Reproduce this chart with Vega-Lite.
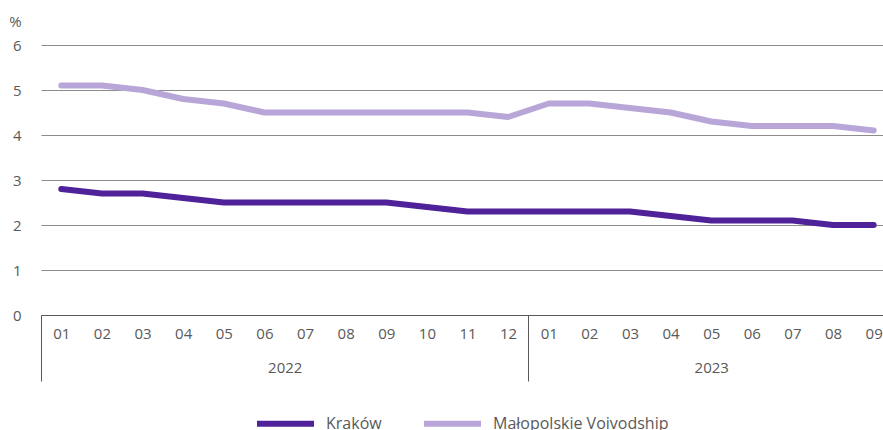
{
  "$schema": "https://vega.github.io/schema/vega-lite/v6.json",
  "width": 853,
  "height": 270,
  "autosize": {"type": "none"},
  "padding": {"left": 41, "top": 45, "right": 0, "bottom": 115},
  "config": {"font": "Open Sans", "view": {"stroke": null}},
  "layer": [
    {
      "data": {
        "values": [
          {"month": "2022-01", "series": "Kraków", "value": 2.8},
          {"month": "2022-02", "series": "Kraków", "value": 2.7},
          {"month": "2022-03", "series": "Kraków", "value": 2.7},
          {"month": "2022-04", "series": "Kraków", "value": 2.6},
          {"month": "2022-05", "series": "Kraków", "value": 2.5},
          {"month": "2022-06", "series": "Kraków", "value": 2.5},
          {"month": "2022-07", "series": "Kraków", "value": 2.5},
          {"month": "2022-08", "series": "Kraków", "value": 2.5},
          {"month": "2022-09", "series": "Kraków", "value": 2.5},
          {"month": "2022-10", "series": "Kraków", "value": 2.4},
          {"month": "2022-11", "series": "Kraków", "value": 2.3},
          {"month": "2022-12", "series": "Kraków", "value": 2.3},
          {"month": "2023-01", "series": "Kraków", "value": 2.3},
          {"month": "2023-02", "series": "Kraków", "value": 2.3},
          {"month": "2023-03", "series": "Kraków", "value": 2.3},
          {"month": "2023-04", "series": "Kraków", "value": 2.2},
          {"month": "2023-05", "series": "Kraków", "value": 2.1},
          {"month": "2023-06", "series": "Kraków", "value": 2.1},
          {"month": "2023-07", "series": "Kraków", "value": 2.1},
          {"month": "2023-08", "series": "Kraków", "value": 2.0},
          {"month": "2023-09", "series": "Kraków", "value": 2.0},
          {"month": "2022-01", "series": "Małopolskie Voivodship", "value": 5.1},
          {"month": "2022-02", "series": "Małopolskie Voivodship", "value": 5.1},
          {"month": "2022-03", "series": "Małopolskie Voivodship", "value": 5.0},
          {"month": "2022-04", "series": "Małopolskie Voivodship", "value": 4.8},
          {"month": "2022-05", "series": "Małopolskie Voivodship", "value": 4.7},
          {"month": "2022-06", "series": "Małopolskie Voivodship", "value": 4.5},
          {"month": "2022-07", "series": "Małopolskie Voivodship", "value": 4.5},
          {"month": "2022-08", "series": "Małopolskie Voivodship", "value": 4.5},
          {"month": "2022-09", "series": "Małopolskie Voivodship", "value": 4.5},
          {"month": "2022-10", "series": "Małopolskie Voivodship", "value": 4.5},
          {"month": "2022-11", "series": "Małopolskie Voivodship", "value": 4.5},
          {"month": "2022-12", "series": "Małopolskie Voivodship", "value": 4.4},
          {"month": "2023-01", "series": "Małopolskie Voivodship", "value": 4.7},
          {"month": "2023-02", "series": "Małopolskie Voivodship", "value": 4.7},
          {"month": "2023-03", "series": "Małopolskie Voivodship", "value": 4.6},
          {"month": "2023-04", "series": "Małopolskie Voivodship", "value": 4.5},
          {"month": "2023-05", "series": "Małopolskie Voivodship", "value": 4.3},
          {"month": "2023-06", "series": "Małopolskie Voivodship", "value": 4.2},
          {"month": "2023-07", "series": "Małopolskie Voivodship", "value": 4.2},
          {"month": "2023-08", "series": "Małopolskie Voivodship", "value": 4.2},
          {"month": "2023-09", "series": "Małopolskie Voivodship", "value": 4.1}
        ]
      },
      "mark": {"type": "line", "strokeWidth": 6, "strokeCap": "round", "strokeJoin": "round"},
      "encoding": {
        "x": {
          "field": "month", "type": "ordinal", "sort": null,
          "scale": {"type": "point", "padding": 0.5},
          "axis": {
            "title": null, "labelExpr": "slice(datum.value, 5)", "ticks": false,
            "domain": true, "domainColor": "#595959", "domainWidth": 1,
            "labelAngle": 0, "labelFontSize": 15, "labelColor": "#595959",
            "labelPadding": 11, "grid": false, "labelOverlap": false
          }
        },
        "y": {
          "field": "value", "type": "quantitative",
          "scale": {"domain": [0, 6], "nice": false},
          "axis": {
            "values": [0, 1, 2, 3, 4, 5, 6], "title": "%", "titleAngle": 0,
            "titleAlign": "center", "titleBaseline": "alphabetic",
            "titleX": -26, "titleY": -19, "titleFontSize": 15, "titleFontWeight": "normal",
            "titleColor": "#595959", "grid": true, "gridColor": "#8c8c8c", "gridWidth": 1,
            "domain": false, "ticks": false, "labelPadding": 20, "labelFontSize": 15,
            "labelColor": "#595959"
          }
        },
        "color": {
          "field": "series", "type": "nominal",
          "scale": {"domain": ["Kraków", "Małopolskie Voivodship"], "range": ["#50229a", "#b9a6d8"]},
          "legend": {
            "orient": "none", "legendX": 213, "legendY": 347, "direction": "horizontal",
            "title": null, "symbolType": "stroke", "symbolSize": 3249, "symbolStrokeWidth": 6,
            "labelFontSize": 16, "labelColor": "#595959", "columnPadding": 30, "labelOffset": 9,
            "labelLimit": 400
          }
        }
      }
    },
    {
      "data": {"values": [{"year": "2022", "mid": 6}, {"year": "2023", "mid": 16.5}]},
      "mark": {"type": "point", "opacity": 0},
      "encoding": {
        "x": {
          "field": "mid", "type": "quantitative",
          "scale": {"domain": [0, 21], "nice": false, "zero": false},
          "axis": {
            "orient": "bottom", "values": [0, 6, 12, 16.5],
            "labelExpr": "datum.value == 6 ? '2022' : datum.value == 16.5 ? '2023' : ''",
            "tickSize": 66, "tickColor": "#595959",
            "tickOpacity": {"condition": {"test": "datum.value == 0 || datum.value == 12", "value": 1}, "value": 0},
            "domain": false, "grid": false, "title": null, "labelPadding": -21,
            "labelFontSize": 15, "labelColor": "#595959", "labelOverlap": false, "labelBound": false, "labelFlush": false
          }
        }
      }
    }
  ],
  "resolve": {"scale": {"x": "independent"}, "axis": {"x": "independent"}}
}
